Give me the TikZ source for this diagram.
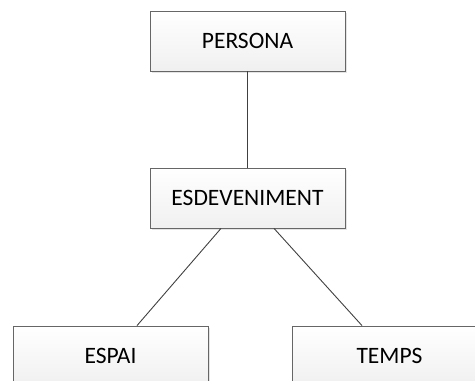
\documentclass[tikz,border=0pt]{standalone}
\usepackage{fontspec}
\setmainfont{Carlito}
\usetikzlibrary{shadows}
\begin{document}
\begin{tikzpicture}[x=1pt, y=1pt,
    ent/.style = {draw=gray!80!black, rectangle, minimum width=195pt, minimum height=60pt,
                  top color=white, bottom color=gray!12, line width=0.8pt,
                  drop shadow={shadow xshift=1.5pt, shadow yshift=-1.5pt, fill=gray!35, opacity=0.6},
                  font=\fontsize{23.5}{28}\selectfont},
    link/.style = {draw=black!75, line width=0.9pt}]
    \useasboundingbox (0,0) rectangle (475,-381);
    \clip (0,0) rectangle (475,-381);
    \node[ent] (persona) at (247.5,-41) {PERSONA};
    \node[ent] (esdev) at (247.5,-198) {ESDEVENIMENT};
    \node[ent] (espai) at (110.5,-356) {ESPAI};
    \node[ent] (temps) at (389.5,-356) {TEMPS};
    \draw[link] (persona) -- (esdev);
    \draw[link] ([xshift=-26.5pt]esdev.south) -- ([xshift=26.5pt]espai.north);
    \draw[link] ([xshift=26.5pt]esdev.south) -- ([xshift=-27.5pt]temps.north);
\end{tikzpicture}
\end{document}
